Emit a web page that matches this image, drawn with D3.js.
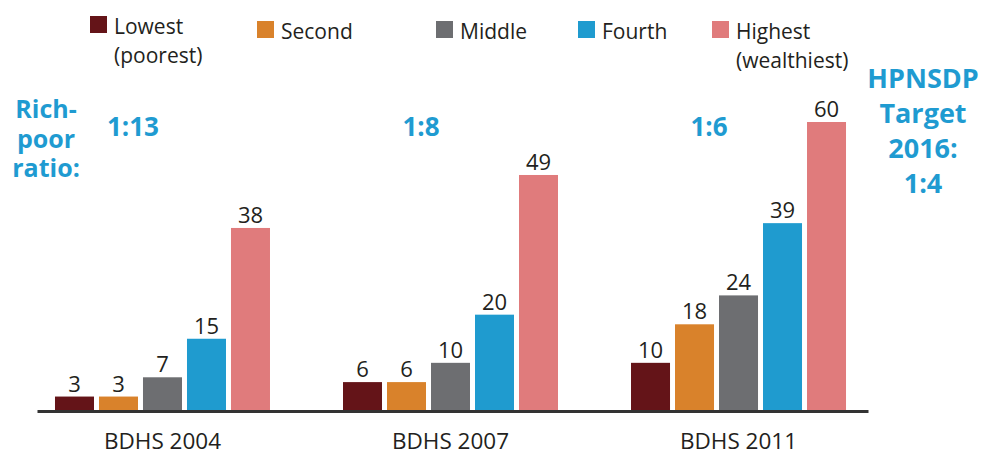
<!DOCTYPE html>
<html>
<head>
<meta charset="utf-8">
<script src="https://cdn.jsdelivr.net/npm/d3@7"></script>
<style>
  body { margin: 0; background: #fff; }
  svg { display: block; font-family: 'Open Sans', 'Noto Sans', sans-serif; }
</style>
</head>
<body>
<div id="chart"></div>
<script>
// survey rounds and wealth quintiles
const surveys = ['BDHS 2004', 'BDHS 2007', 'BDHS 2011']
const quintiles = ['Lowest', 'Second', 'Middle', 'Fourth', 'Highest']
const quintileLabels = [['Lowest', '(poorest)'], ['Second'], ['Middle'], ['Fourth'], ['Highest', '(wealthiest)']]
const colors = ['#641418', '#d9822b', '#6d6e71', '#1f9bcf', '#e07b7c']

// values per quintile, one per survey
const lowest = [3, 6, 10]
const second = [3, 6, 18]
const middle = [7, 10, 24]
const fourth = [15, 20, 39]
const highest = [38, 49, 60]

const ratios = ['1:13', '1:8', '1:6']
const ratioTitle = ['Rich-', 'poor', 'ratio:']
const targetText = ['HPNSDP', 'Target', '2016:', '1:4']

const series = [lowest, second, middle, fourth, highest]
const data = surveys.map((s, i) => ({
  survey: s,
  values: quintiles.map((q, j) => ({ key: q, value: series[j][i], idx: j }))
}))

const width = 981
const height = 453
const blue = '#1f9bd1'
const ink = '#231f20'

const svg = d3.select('#chart')
  .append('svg')
  .attr('width', width)
  .attr('height', height)

const x0 = d3.scaleBand()
  .domain(surveys)
  .range([37, 868])
  .paddingInner(0.2535)
  .paddingOuter(0.0694)
  .align(0.45)

const x1 = d3.scaleBand()
  .domain(quintiles)
  .range([0, x0.bandwidth()])
  .paddingInner(0.1136)

const y = d3.scaleLinear()
  .domain([0, 60])
  .range([411, 122])

const color = d3.scaleOrdinal().domain(quintiles).range(colors)

// bars
const groups = svg.selectAll('g.group')
  .data(data)
  .enter().append('g')
  .attr('class', 'group')
  .attr('transform', d => `translate(${x0(d.survey)},0)`)

groups.selectAll('rect')
  .data(d => d.values)
  .enter().append('rect')
  .attr('x', d => x1(d.key))
  .attr('y', d => y(d.value))
  .attr('width', x1.bandwidth())
  .attr('height', d => y(0) - y(d.value))
  .attr('fill', d => color(d.key))

groups.selectAll('text')
  .data(d => d.values)
  .enter().append('text')
  .attr('x', d => x1(d.key) + x1.bandwidth() / 2)
  .attr('y', d => y(d.value) - 5)
  .attr('text-anchor', 'middle')
  .attr('font-size', 22)
  .attr('fill', ink)
  .text(d => d.value)

// baseline axis
const axis = svg.append('g')
  .attr('transform', `translate(0,${y(0)})`)
  .call(d3.axisBottom(x0).tickSize(0).tickSizeOuter(0).tickPadding(22))
axis.select('.domain').attr('stroke', '#333').attr('stroke-width', 3)
axis.selectAll('text')
  .attr('font-size', 22.5)
  .attr('font-family', "'Open Sans', 'Noto Sans', sans-serif")
  .attr('fill', ink)

// legend
const legendX = [90, 257, 436, 578, 712]
const legend = svg.selectAll('g.legend')
  .data(quintiles)
  .enter().append('g')
  .attr('class', 'legend')
  .attr('transform', (d, i) => `translate(${legendX[i]},${i === 0 ? 16 : 21})`)

legend.append('rect')
  .attr('width', 17)
  .attr('height', 17)
  .attr('fill', d => color(d))

legend.append('text')
  .attr('x', 24)
  .attr('y', 18)
  .attr('font-size', 21)
  .attr('fill', ink)
  .selectAll('tspan')
  .data((d, i) => quintileLabels[i])
  .enter().append('tspan')
  .attr('x', 24)
  .attr('dy', (d, i) => i === 0 ? 0 : 29)
  .text(d => d)

// rich-poor ratios
svg.append('text')
  .attr('x', 46)
  .attr('y', 118)
  .attr('text-anchor', 'middle')
  .attr('font-size', 25)
  .attr('font-weight', 'bold')
  .attr('fill', blue)
  .selectAll('tspan')
  .data(ratioTitle)
  .enter().append('tspan')
  .attr('x', 46)
  .attr('dy', (d, i) => i === 0 ? 0 : 29.5)
  .text(d => d)

svg.selectAll('text.ratio')
  .data(ratios)
  .enter().append('text')
  .attr('class', 'ratio')
  .attr('x', (d, i) => x0(surveys[i]) + x1('Lowest') + 78)
  .attr('y', 136)
  .attr('text-anchor', 'middle')
  .attr('font-size', 26)
  .attr('font-weight', 'bold')
  .attr('fill', blue)
  .text(d => d)

svg.append('text')
  .attr('x', 923)
  .attr('y', 88)
  .attr('text-anchor', 'middle')
  .attr('font-size', 27)
  .attr('font-weight', 'bold')
  .attr('fill', blue)
  .selectAll('tspan')
  .data(targetText)
  .enter().append('tspan')
  .attr('x', 923)
  .attr('dy', (d, i) => i === 0 ? 0 : 35)
  .text(d => d)
</script>
</body>
</html>
